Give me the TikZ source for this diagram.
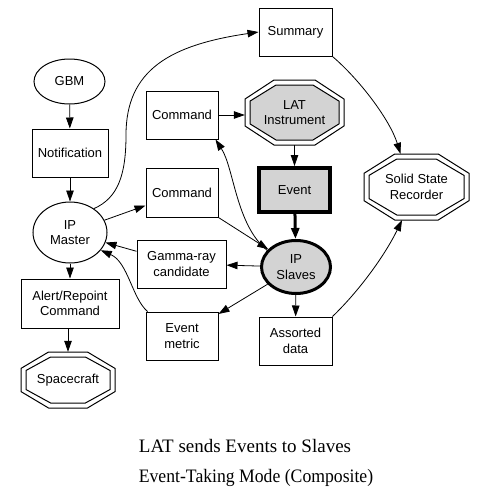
\documentclass[tikz,border=0pt]{standalone}
\usepackage{fontspec}
\setmainfont{Liberation Sans}
\newfontfamily\titlefont{Liberation Serif}
\usetikzlibrary{shapes.geometric,arrows.meta,calc}
\definecolor{lgray}{HTML}{D3D3D3}
\newcommand\dbloct[5]{%
  \begin{scope}[shift={(#1)}]
    \filldraw[line width=1pt, fill=white] (#2,{0.4142*#3}) -- ({0.4142*#2},#3) -- ({-0.4142*#2},#3) -- (-#2,{0.4142*#3}) -- (-#2,{-0.4142*#3}) -- ({-0.4142*#2},-#3) -- ({0.4142*#2},-#3) -- (#2,{-0.4142*#3}) -- cycle;
    \filldraw[line width=1pt, fill=#4] ({#2-#5},{0.4142*(#3-#5)}) -- ({0.4142*(#2-#5)},{#3-#5}) -- ({-0.4142*(#2-#5)},{#3-#5}) -- ({-(#2-#5)},{0.4142*(#3-#5)}) -- ({-(#2-#5)},{-0.4142*(#3-#5)}) -- ({-0.4142*(#2-#5)},{-(#3-#5)}) -- ({0.4142*(#2-#5)},{-(#3-#5)}) -- ({#2-#5},{-0.4142*(#3-#5)}) -- cycle;
  \end{scope}}
\begin{document}
\begin{tikzpicture}[x=1pt,y=-1pt,
  lbl/.style={font=\fontsize{13}{15.5}\selectfont, align=center, inner sep=0pt},
  box/.style={lbl, draw, line width=1pt, fill=white, minimum width=72pt, minimum height=48pt},
  ell/.style={lbl, draw, ellipse, line width=1pt, fill=white},
  arr/.style={line width=0.8pt, -{Triangle[length=11pt,width=7.5pt]}},
  captext/.style={font=\titlefont\fontsize{19}{22}\selectfont, anchor=base, inner sep=0pt}]
\useasboundingbox (0,0) rectangle (487,488);

% octagon shapes
\coordinate (latc) at (294.5,112.5);
\coordinate (ssrc) at (416.5,187);
\coordinate (scc) at (68,380);
\dbloct{latc}{49.5}{32.5}{lgray}{5}
\dbloct{ssrc}{52.5}{33}{white}{5}
\dbloct{scc}{47}{28}{white}{5}

% nodes
\node[ell, minimum width=71pt, minimum height=45pt] (gbm) at (69.5,81.5) {GBM};
\node[box, minimum width=76pt] (notif) at (70,153) {Notification};
\node[ell, minimum width=74pt, minimum height=61pt] (ipm) at (70,232.5) {IP\\Master};
\node[box, minimum width=98pt, minimum height=49pt] (alert) at (70,303.5) {Alert/Repoint\\Command};
\node[lbl, minimum width=94pt, minimum height=56pt] (sc) at (scc) {Spacecraft};
\node[box] (cmd1) at (182,115) {Command};
\node[box, minimum height=49pt] (cmd2) at (182,192.5) {Command};
\node[box, minimum width=73pt] (sum) at (295.5,32) {Summary};
\node[lbl, minimum width=99pt, minimum height=65pt] (lat) at (latc) {LAT\\Instrument};
\node[box, line width=4pt, fill=lgray, minimum width=71pt, minimum height=44pt] (event) at (294.5,190) {Event};
\node[lbl, minimum width=105pt, minimum height=66pt] (ssr) at (ssrc) {Solid State\\Recorder};
\node[ell, line width=3pt, fill=lgray, minimum width=69pt, minimum height=53pt] (ips) at (296,267) {IP\\Slaves};
\node[box, minimum width=89pt] (gam) at (181.5,264) {Gamma-ray\\candidate};
\node[box] (met) at (182,336) {Event\\metric};
\node[box, minimum width=73pt] (ad) at (295.5,341) {Assorted\\data};

% connectors
\draw[arr] (gbm) -- (notif);
\draw[arr] (notif) -- (ipm);
\draw[arr] (ipm) -- (alert);
\draw[arr] (alert.south -| sc) -- (sc);
\draw[arr] (ipm.45) .. controls (118,198) and (126,175) .. (126,135) .. controls (126,70) and (170,45) .. (sum.west);
\draw[arr] (ipm) -- (cmd2);
\draw[arr] (cmd1.east) -- (cmd1.east -| lat.west);
\draw[arr] (lat) -- (event);
\draw[line width=3pt, -{Triangle[length=11pt,width=8pt]}] (event) -- (ips);
\draw[arr] (cmd2.south east) -- (ips);
\draw[arr] (ips.150) .. controls (236,225) and (234,168) .. ([xshift=-3pt]cmd1.south east);
\draw[arr] (ips) -- (gam);
\draw[arr] (gam) -- (ipm);
\draw[arr] (ips) -- (met);
\draw[arr] ([xshift=2pt]met.north west) .. controls (132,298) and (128,262) .. (ipm.-30);
\draw[arr] (ips) -- (ad);
\draw[arr] (ad.north east) .. controls (360,290) and (385,255) .. ([xshift=-14.5pt]ssr.south);
\draw[arr] (sum.south east) .. controls (360,80) and (390,120) .. ([xshift=-16pt]ssr.north);

% caption
\node[captext] (cap1) at (245,452) {LAT sends Events to Slaves};
\node[captext, transform shape, xscale=0.93] (cap2) at (256,482) {Event-Taking Mode (Composite)};
\end{tikzpicture}
\end{document}
